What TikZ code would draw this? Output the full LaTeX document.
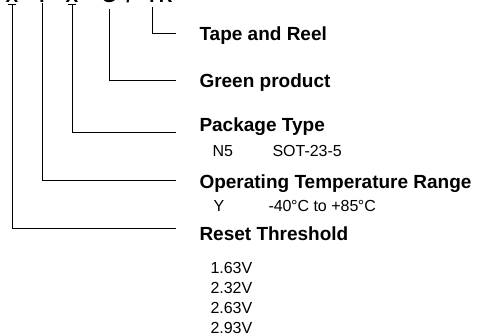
\documentclass[tikz,border=0pt]{standalone}
\usepackage{fontspec}
\setmainfont{Liberation Sans}
\usetikzlibrary{positioning}

\begin{document}
\begin{tikzpicture}[x=1pt, y=-1pt, line width=1pt,
      lbl/.style={anchor=base west, inner sep=0pt,
                  font=\fontsize{19}{23}\selectfont\bfseries},
      val/.style={anchor=base west, inner sep=0pt,
                  font=\fontsize{16}{19}\selectfont},
      chr/.style={anchor=base, inner sep=0pt,
                  font=\fontsize{19}{23}\selectfont\bfseries}]
    \clip (0,0) rectangle (479,336);
    % part number, only its lower edge is in the picture
    \node[chr] (c1) at (12,3)  {X};
    \node[chr] (c2) at (42,3)  {Y};
    \node[chr] (c3) at (72,3)  {X};
    \node[chr] (c4) at (109,3) {G};
    \node[chr] (c5) at (129,3) {/};
    \node[chr] (c6) at (152,3) {T};
    \node[chr, anchor=base west] (c7) at (c6.base east) {R};
    % fields
    \node[lbl] (tape)  at (199,41)  {Tape and Reel};
    \node[lbl] (green) at (199,88)  {Green product};
    \node[lbl] (pkg)   at (199,132) {Package Type};
    \node[val] (n5)    at (212,157) {N5};
    \node[val] (sot)   at (272,157) {SOT-23-5};
    \node[lbl] (temp)  at (199,189) {Operating Temperature Range};
    \node[val] (ty)    at (213,212) {Y};
    \node[val] (trng)  at (268,212) {-40\kern-.5pt°C to +85\kern-.5pt°C};
    \node[lbl] (reset) at (199,241) {Reset Threshold};
    \node[val] (v1) at (210,274) {1.63V};
    \node[val] (v2) at (210,294) {2.32V};
    \node[val] (v3) at (210,314) {2.63V};
    \node[val] (v4) at (210,334) {2.93V};
    % line ends
    \coordinate (tapeend)  at (176,34);
    \coordinate (greenend) at (176,81);
    \coordinate (pkgend)   at (176,133);
    \coordinate (tempend)  at (176,181);
    \coordinate (resetend) at (176,229);
    \foreach \c/\d/\e in {c1/2/resetend, c2/0/tempend, c3/2/pkgend,
                          c4/6/greenend, c6/4/tapeend}
      \draw ([yshift=-\d pt]\c.base) |- (\e);
    \foreach \c in {c1,c3}
      \draw ([xshift=-4pt,yshift=-2pt]\c.base) -- ++(8,0);
\end{tikzpicture}
\end{document}
